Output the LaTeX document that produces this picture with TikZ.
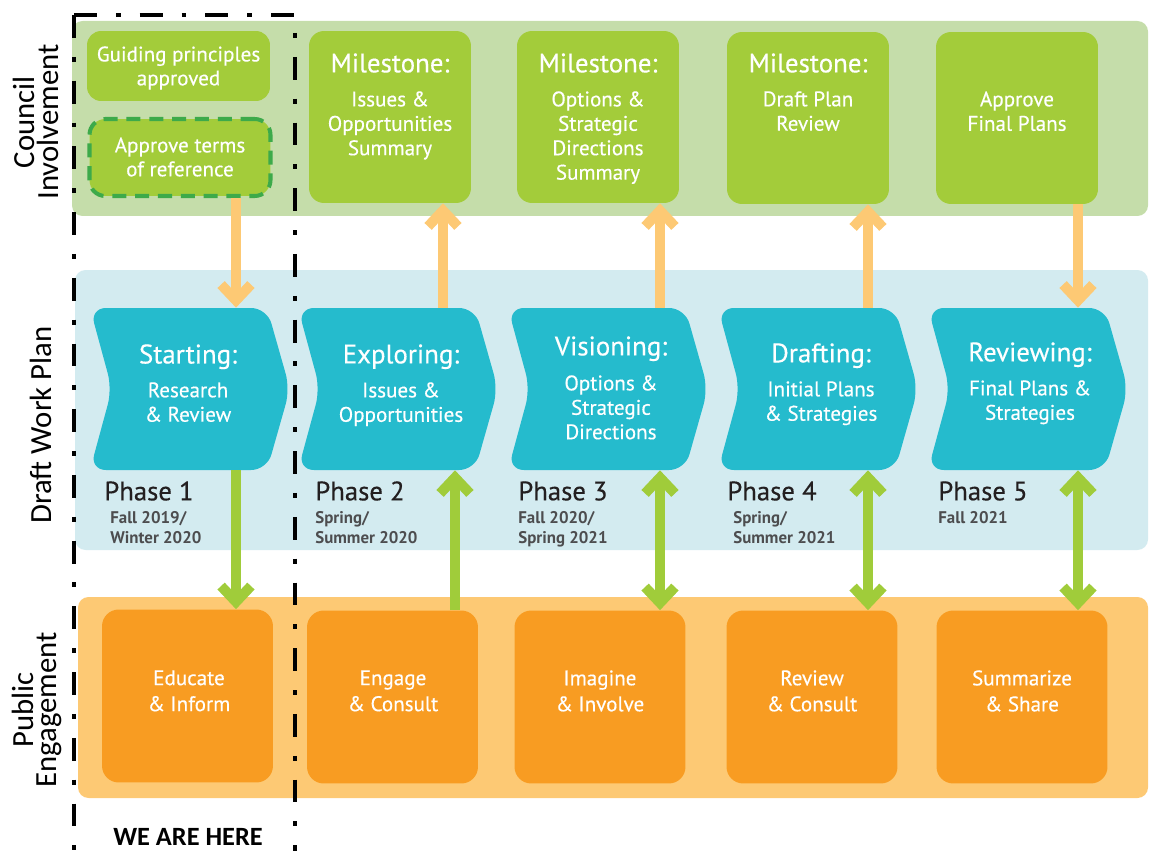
\documentclass[tikz,border=0pt]{standalone}
\usepackage{fontspec}
\setmainfont{PT Sans}
\newfontfamily\medfont{PT Sans}[FakeBold=0.35]
\newfontfamily\sidefont{Carlito}
\usetikzlibrary{arrows.meta}
\definecolor{councilband}{HTML}{C5DDAA}
\definecolor{msgreen}{HTML}{A3CC3A}
\definecolor{torborder}{HTML}{3DAA4A}
\definecolor{blueband}{HTML}{D3EBF0}
\definecolor{chevcol}{HTML}{25BBCD}
\definecolor{orangeband}{HTML}{FDC974}
\definecolor{oboxcol}{HTML}{F89C22}
\definecolor{oarrcol}{HTML}{FDC974}
\definecolor{garrcol}{HTML}{A0CC3A}
\definecolor{phasecol}{HTML}{231F20}
\definecolor{datecol}{HTML}{4D4D4F}
\newcommand\fTitle{\medfont\fontsize{15.3pt}{17pt}\selectfont}
\newcommand\fSub{\medfont\fontsize{12pt}{13.9pt}\selectfont}
\newcommand\fSmall{\medfont\fontsize{12pt}{13.6pt}\selectfont}
\newcommand\fBox{\medfont\fontsize{12pt}{14.8pt}\selectfont}
\newcommand\fPhase{\medfont\fontsize{15.2pt}{17pt}\selectfont}
\newcommand\fDate{\fontsize{9.6pt}{11.3pt}\selectfont\bfseries}
\newcommand\fSide{\sidefont\fontsize{17.5pt}{13.2pt}\selectfont}
\newcommand\chevshape[1]{%
  \fill[chevcol, rounded corners=9pt] (#1,308) -- (#1+177,308) -- (#1+200,389) -- (#1+177,470) -- (#1,470) -- (#1+22,389) -- cycle;}
\begin{document}
\begin{tikzpicture}[x=0.02cm, y=-0.02cm,
  band/.style={rounded corners=6pt},
  hold/.style={inner sep=0, minimum width=4cm, minimum height=3.24cm},
  msbox/.style={fill=msgreen, rounded corners=8.5pt, inner sep=0, minimum width=3.24cm, minimum height=3.44cm},
  smallbox/.style={fill=msgreen, rounded corners=8pt, inner sep=0, minimum width=3.66cm, minimum height=1.4cm},
  torbox/.style={fill=msgreen, draw=torborder, line width=2.3pt, dash pattern=on 8pt off 5pt, rounded corners=9pt, inner sep=0, minimum width=3.62cm, minimum height=1.54cm},
  obox/.style={fill=oboxcol, rounded corners=9.5pt, inner sep=0, minimum width=3.42cm, minimum height=3.46cm},
  wtxt/.style={text=white, align=center, inner sep=0},
  ttl/.style={wtxt, font=\fTitle, anchor=north},
  sub/.style={wtxt, font=\fSub, anchor=north},
  phase/.style={text=phasecol, font=\fPhase, anchor=west, inner sep=0},
  date/.style={text=datecol, font=\fDate, anchor=north west, align=left, inner sep=0},
  side/.style={font=\fSide, align=center, rotate=90, inner sep=0, text=black},
  tipa/.tip={Straight Barb[sharp, length=9pt, width=17pt]},
  oarr/.style={draw=oarrcol, line width=5.7pt, -tipa},
  garr/.style={draw=garrcol, line width=5.7pt, -tipa},
  garrb/.style={draw=garrcol, line width=5.7pt, tipa-tipa},
  wah/.style={font=\sidefont\bfseries\fontsize{15pt}{17pt}\selectfont, inner sep=0},
  herebox/.style={draw=black, line width=2.8pt, dash pattern=on 13pt off 10.8pt on 2.8pt off 10.8pt}
]
\useasboundingbox (0,0) rectangle (1149,851);
% bands
\fill[councilband, band] (72,21) rectangle (1148,216);
\fill[blueband, band] (75,270) rectangle (1148,550);
\fill[orangeband, band] (78,597) rectangle (1148,798);

% side labels
\node[side] (lc) at (36,122) {Council\\Involvement};
\node[side] (ld) at (41,425) {Draft Work Plan};
\node[side] (lp) at (37,710) {Public\\Engagement};

% council boxes
\node[smallbox] (gp) at (178.5,66) {};
\node[wtxt, font=\fSmall] (gpt) at (178.5,68) {Guiding principles\\approved};
\node[torbox] (tor) at (180,157.5) {};
\node[wtxt, font=\fSmall] (tort) at (180,157) {Approve terms\\of reference};

\node[msbox] (m1) at (390,117) {};
\node[msbox] (m2) at (598,117) {};
\node[msbox] (m3) at (808,118) {};
\node[msbox] (m4) at (1017,118) {};
\node[ttl] (m1h) at (390,53) {Milestone:};
\node[sub] (m1s) at (390,91) {Issues \&\\Opportunities\\Summary};
\node[ttl] (m2h) at (598,53) {Milestone:};
\node[sub] (m2s) at (598,91) {Options \&\\Strategic\\Directions\\Summary};
\node[ttl] (m3h) at (808,53) {Milestone:};
\node[sub] (m3s) at (808,91) {Draft Plan\\Review};
\node[sub] (m4s) at (1017,91) {Approve\\Final Plans};

% chevrons
\chevshape{90}\chevshape{298}\chevshape{508}\chevshape{718}\chevshape{928}
\node[hold] (c1) at (190,389) {};
\node[hold] (c2) at (398,389) {};
\node[hold] (c3) at (608,389) {};
\node[hold] (c4) at (818,389) {};
\node[hold] (c5) at (1028,389) {};
\node[ttl] (c1h) at (188,344) {Starting:};
\node[sub] (c1s) at (188,382) {Research\\\& Review};
\node[ttl] (c2h) at (401,344) {Exploring:};
\node[sub] (c2s) at (401,382) {Issues \&\\Opportunities};
\node[ttl] (c3h) at (611,336) {Visioning:};
\node[sub] (c3s) at (611,375) {Options \&\\Strategic\\Directions};
\node[ttl] (c4h) at (821,343) {Drafting:};
\node[sub] (c4s) at (821,381) {Initial Plans\\\& Strategies};
\node[ttl] (c5h) at (1030,342) {Reviewing:};
\node[sub] (c5s) at (1030,380) {Final Plans \&\\Strategies};

% phases
\node[phase] (p1) at (104,491) {Phase 1};
\node[date] (d1) at (110,511) {Fall 2019/\\Winter 2020};
\node[phase] (p2) at (315,491) {Phase 2};
\node[date] (d2) at (315,511) {Spring/\\Summer 2020};
\node[phase] (p3) at (518,491) {Phase 3};
\node[date] (d3) at (518,511) {Fall 2020/\\Spring 2021};
\node[phase] (p4) at (727,491) {Phase 4};
\node[date] (d4) at (733,511) {Spring/\\Summer 2021};
\node[phase] (p5) at (938,491) {Phase 5};
\node[date] (d5) at (938,511) {Fall 2021};

% orange boxes
\node[obox] (ob1) at (187.5,696) {};
\node[obox] (ob2) at (392.5,697) {};
\node[obox] (ob3) at (600,697) {};
\node[obox] (ob4) at (812,697) {};
\node[obox] (ob5) at (1022,697) {};
\node[wtxt, font=\fBox, anchor=north] (ob1t) at (189,670) {Educate\\\& Inform};
\node[wtxt, font=\fBox, anchor=north] (ob2t) at (393,670) {Engage\\\& Consult};
\node[wtxt, font=\fBox, anchor=north] (ob3t) at (600,670) {Imagine\\\& Involve};
\node[wtxt, font=\fBox, anchor=north] (ob4t) at (812,670) {Review\\\& Consult};
\node[wtxt, font=\fBox, anchor=north] (ob5t) at (1022,670) {Summarize\\\& Share};

% arrow columns
\coordinate (a1) at (236,0);
\coordinate (a2o) at (443,0);
\coordinate (a2g) at (455,0);
\coordinate (a3) at (660,0);
\coordinate (a4) at (868,0);
\coordinate (a5) at (1078,0);

\draw[oarr] (tor.south -| a1) -- (c1.north -| a1);
\draw[garr] (c1.south -| a1) -- (ob1.north -| a1);
\draw[oarr] (c2.north -| a2o) -- (m1.south -| a2o);
\draw[garr] (ob2.north -| a2g) -- (c2.south -| a2g);
\draw[oarr] (c3.north -| a3) -- (m2.south -| a3);
\draw[garrb] (c3.south -| a3) -- (ob3.north -| a3);
\draw[oarr] (c4.north -| a4) -- (m3.south -| a4);
\draw[garrb] (c4.south -| a4) -- (ob4.north -| a4);
\draw[oarr] (m4.south -| a5) -- (c5.north -| a5);
\draw[garrb] (c5.south -| a5) -- (ob5.north -| a5);

% we are here frame
\coordinate (hTL) at (74,15);
\coordinate (hTR) at (295,15);
\coordinate (hBL) at (74,851);
\coordinate (hBR) at (295,851);
\draw[herebox] (hTL) -- (hBL);
\draw[herebox] (hTL) -- (hTR) -- (hBR);
\node[wah] (wah) at (188,837) {WE ARE HERE};
\end{tikzpicture}
\end{document}
